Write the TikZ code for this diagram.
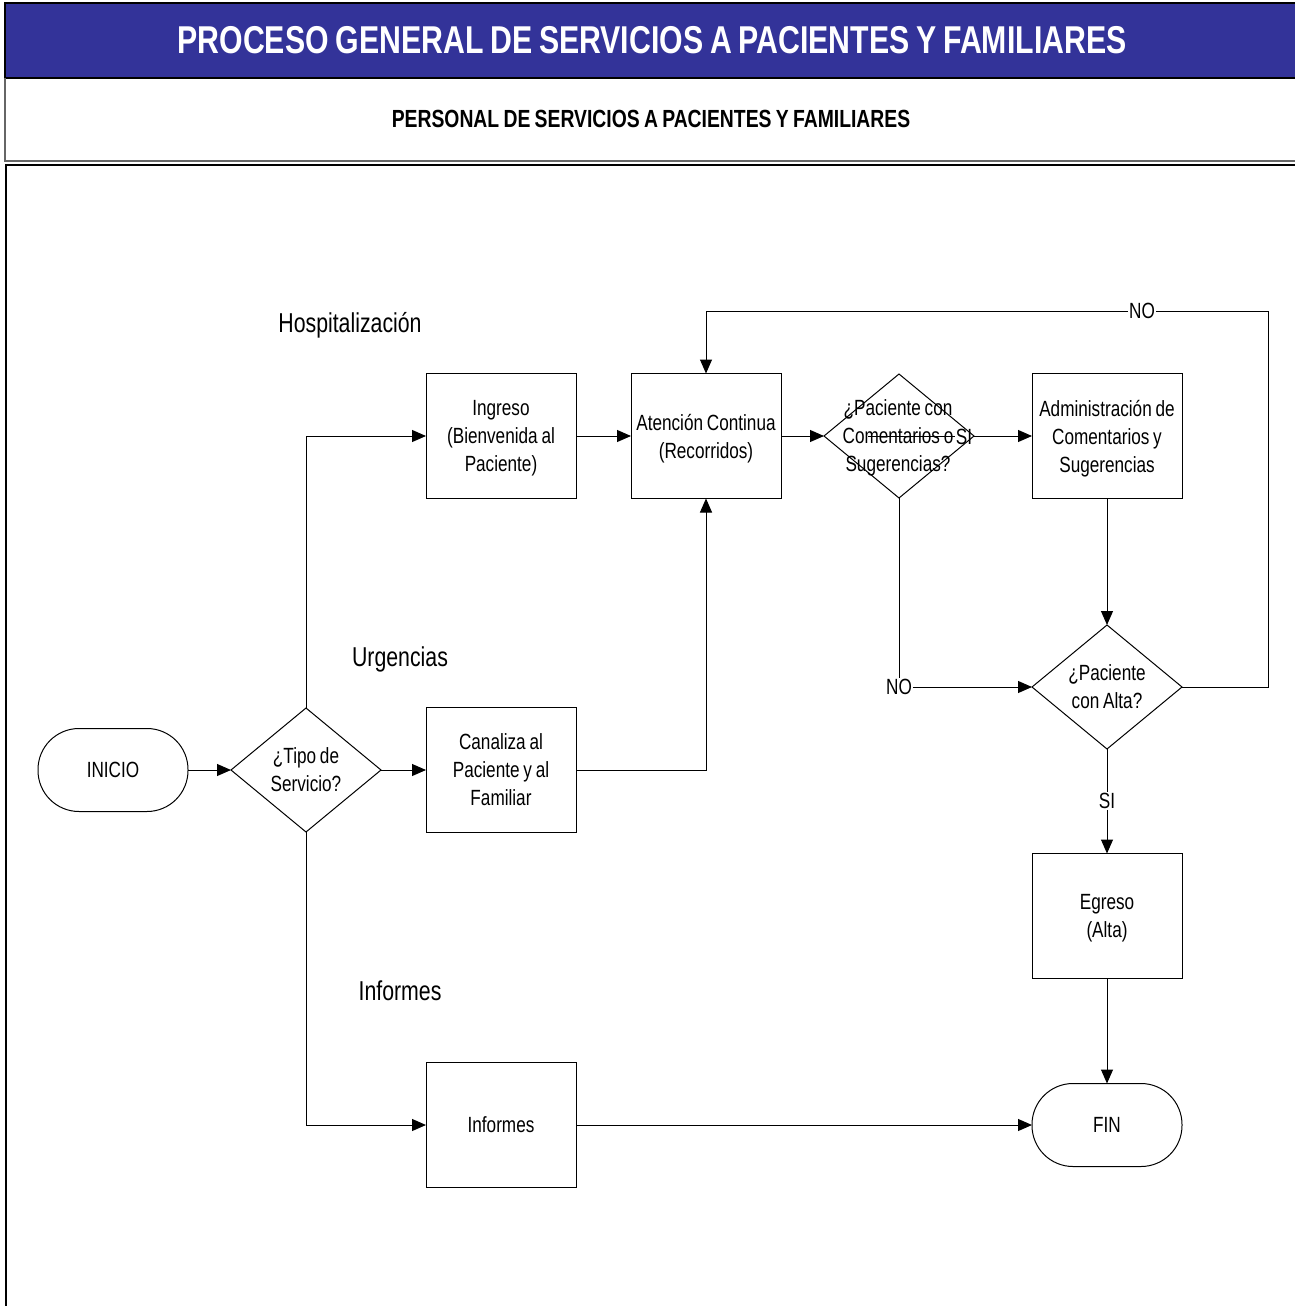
\documentclass[tikz,border=0pt]{standalone}
\usepackage{fontspec}
\setmainfont{Liberation Sans}[FakeStretch=0.78,WordSpace=0.8]
\usetikzlibrary{arrows.meta,shapes.geometric}
\definecolor{titleblue}{RGB}{51,51,153}
\begin{document}
\begin{tikzpicture}[x=1pt,y=-1pt,
  every node/.style={inner sep=0pt, outer sep=0pt},
  txt/.style={font=\fontsize{22}{28}\selectfont, align=center, text depth=0pt},
  box/.style={draw, line width=1pt, txt, minimum width=150pt, minimum height=125pt},
  term/.style={draw, line width=1pt, txt, rounded corners=41pt, minimum width=150pt, minimum height=83pt},
  dia/.style={draw, line width=1pt, diamond, minimum width=150pt, minimum height=124pt},
  lab/.style={font=\fontsize{22}{28}\selectfont, inner sep=1pt},
  sect/.style={font=\fontsize{27.3}{32}\selectfont, anchor=base},
  conn/.style={line width=1pt},
  arr/.style={conn, -{Triangle[length=14pt,width=12pt]}},
]
\useasboundingbox (0,0) rectangle (1295,1306);
% frame
\fill[white] (0,0) rectangle (1295,1306);
\draw[fill=titleblue, line width=1.5pt] (5,3) rectangle (1310,78);
\node[font=\fontsize{38.8}{44}\selectfont\bfseries, text=white] (title) at (652,40) {PROCESO GENERAL DE SERVICIOS A PACIENTES Y FAMILIARES};
\draw[line width=1.5pt, black!60] (5,78) -- (5,161) -- (1310,161);
\node[font=\fontsize{24.8}{28}\selectfont\bfseries] (subtitle) at (651,119) {PERSONAL DE SERVICIOS A PACIENTES Y FAMILIARES};
\draw[line width=2pt] (6,165) rectangle (1310,1320);

% section labels
\node[sect] (hosp) at (350,332) {Hospitalización};
\node[sect] (urg) at (400,666) {Urgencias};
\node[sect] (infl) at (400,1000) {Informes};

% nodes
\node[term] (ini) at (113,770) {INICIO};
\node[dia] (tipo) at (306,770) {};
\node[txt] (tipot) at (306,770) {¿Tipo de\\Servicio?};
\node[box] (ing) at (501,436) {Ingreso\\(Bienvenida al\\Paciente)};
\node[box] (can) at (501,770) {Canaliza al\\Paciente y al\\Familiar};
\node[box] (inf) at (501,1125) {Informes};
\node[box] (atn) at (706,436) {Atención Continua\\(Recorridos)};
\node[dia] (d2) at (899,436) {};
\node[txt] (d2t) at (898,436) {¿Paciente con\\Comentarios o\\Sugerencias?};
\node[box] (adm) at (1107,436) {Administración de\\Comentarios y\\Sugerencias};
\node[dia] (alta) at (1107,687) {};
\node[txt] (altat) at (1107,687) {¿Paciente\\con Alta?};
\node[box] (egr) at (1107,916) {Egreso\\(Alta)};
\node[term] (fin) at (1107,1125) {FIN};

% connector labels
\node[lab] (si1) at (964,437) {SI};
\node[lab] (no1) at (899,687) {NO};
\node[lab] (no2) at (1142,311) {NO};
\node[lab] (si2) at (1107,801) {SI};
\coordinate (d2s) at (868,436);
\coordinate (rt) at (1268,311);

% connectors
\draw[arr] (ini.east) -- (tipo.west);
\draw[arr] (tipo.east) -- (can.west);
\draw[arr] (tipo.north) |- (ing.west);
\draw[arr] (tipo.south) |- (inf.west);
\draw[arr] (ing.east) -- (atn.west);
\draw[arr] (can.east) -| (atn.south);
\draw[arr] (atn.east) -- (d2.west);
\draw[conn] (d2s) -- (si1.west |- d2s);
\draw[arr] (si1.east |- d2s) -- (adm.west);
\draw[conn] (d2.south) -- (d2.south |- no1.north);
\draw[arr] (no1.east) -- (alta.west);
\draw[arr] (adm.south) -- (alta.north);
\draw[conn] (alta.east) -| (rt) -- (no2.east);
\draw[arr] (no2.west) -| (atn.north);
\draw[conn] (alta.south) -- (si2.north);
\draw[arr] (si2.south) -- (egr.north);
\draw[arr] (egr.south) -- (fin.north);
\draw[arr] (inf.east) -- (fin.west);
\end{tikzpicture}
\end{document}
